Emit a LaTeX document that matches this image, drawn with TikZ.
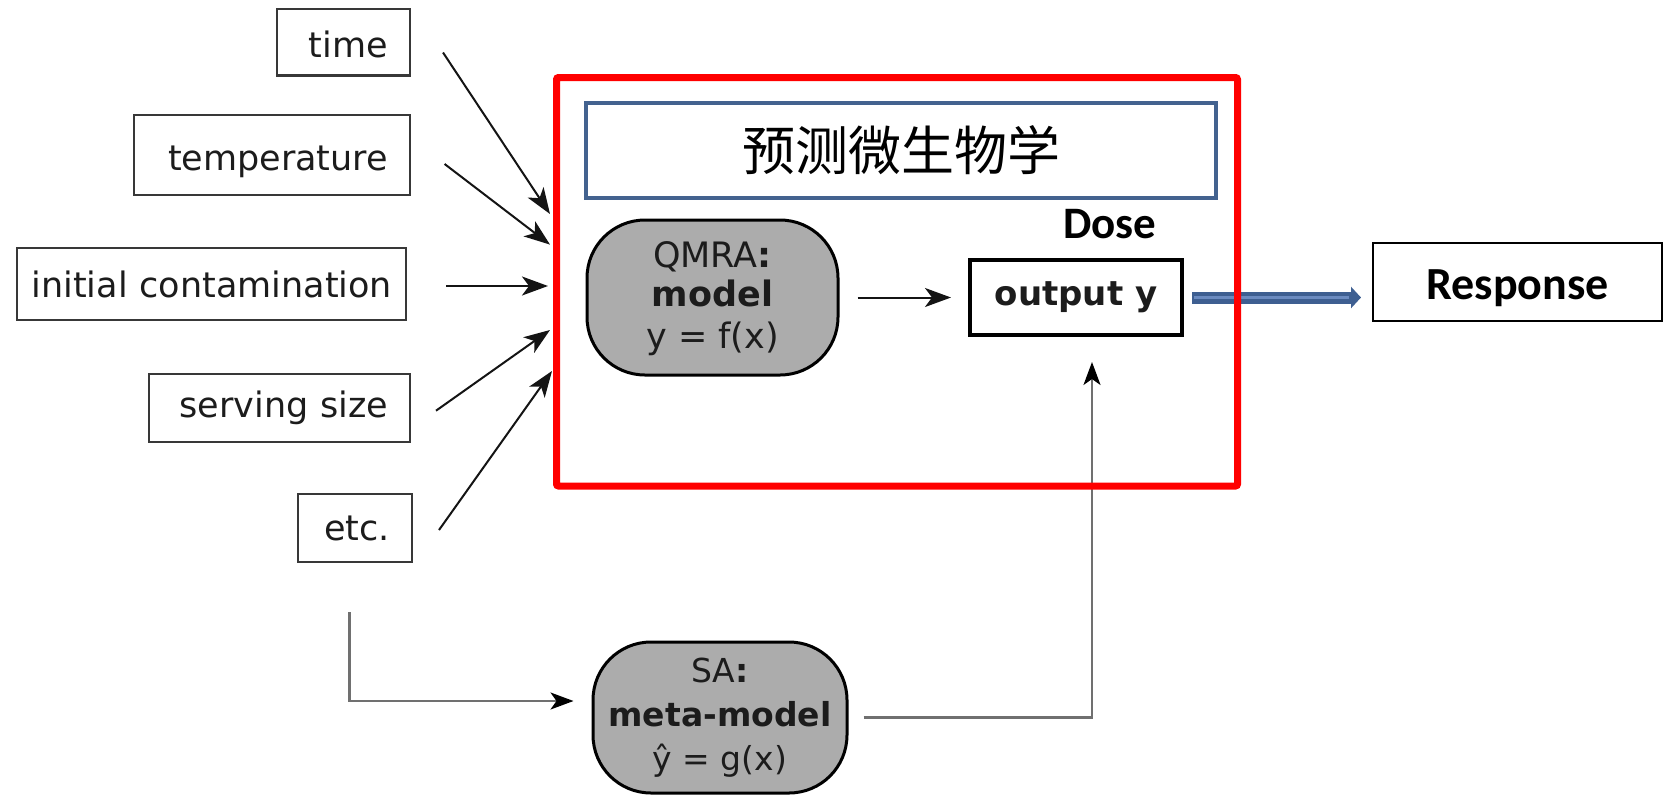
\documentclass[tikz,border=0pt]{standalone}
\usepackage{fontspec}
\setmainfont{DejaVu Sans}
\newfontfamily\carlito{Carlito}
\newfontfamily\cjk{Noto Sans CJK SC}
\usetikzlibrary{arrows.meta,calc}
\definecolor{redc}{HTML}{FF0000}
\definecolor{boxblue}{HTML}{43628F}
\definecolor{arrblue}{HTML}{3E5F91}
\definecolor{arrlight}{HTML}{6B8BC0}
\definecolor{blobfill}{HTML}{ACACAC}
\definecolor{linegray}{HTML}{707070}
\definecolor{txtdark}{HTML}{1C1C1C}
\begin{document}
\begin{tikzpicture}[x=1pt,y=-1pt,
  inbox/.style={draw=black!78, line width=2.5pt, text=txtdark,
    font=\fontsize{35}{40}\selectfont, align=right, inner ysep=0pt, inner xsep=22pt},
  blob/.style={draw=black, fill=blobfill, line width=3pt, rounded corners=58pt,
    align=center, text=txtdark, inner sep=0pt},
  inarrow/.style={draw=black!92, line width=2pt, -{Stealth[length=26pt,width=19pt,inset=7pt]}},
  grayarrow/.style={draw=linegray, line width=2.2pt, -{Stealth[length=23pt,width=17pt,inset=6pt,color=black]}},
  grayline/.style={draw=linegray, line width=2.2pt}
]
\useasboundingbox (0,0) rectangle (1666,796);

% input boxes
\node[inbox, text width=89pt, minimum width=133pt, minimum height=66.5pt] (time) at (343.5,42) {\raisebox{-2pt}[\height][\depth]{time}};
\node[inbox, text width=232pt, minimum width=276pt, minimum height=80pt] (temp) at (272,155) {\raisebox{-7pt}[\height][\depth]{temperature}};
\node[inbox, inner xsep=14pt, text width=361pt, minimum width=389pt, minimum height=72pt] (init) at (211.5,284) {\mbox{initial contamination}};
\node[inbox, text width=217pt, minimum width=261pt, minimum height=68pt] (serv) at (279.5,408) {serving size};
\node[inbox, text width=70pt, minimum width=114pt, minimum height=68pt] (etc) at (355,528) {etc.};

% title box
\node[draw=boxblue, line width=3.5pt, minimum width=630pt, minimum height=95pt,
  font=\cjk\fontsize{53}{60}\selectfont] (title) at (901,150.5) {预测微生物学};

% QMRA model
\node[blob, minimum width=251pt, minimum height=155pt, font=\fontsize{35}{42}\selectfont] (qmra) at (712.5,297.5)
  {\raisebox{-3pt}[\height][\depth]{QMRA\textbf{:}}\\\textbf{model}\\y = f(x)};

% output
\node[draw=black, line width=4pt, minimum width=212pt, minimum height=75pt,
  font=\bfseries\fontsize{34}{40}\selectfont, text=txtdark] (out) at (1076,297.5) {output y};
\node[font=\carlito\bfseries\fontsize{45}{50}\selectfont] (dose) at (1110,224.5) {Dose};

% response
\node[draw=black, line width=2pt, minimum width=289pt, minimum height=78pt,
  font=\carlito\bfseries\fontsize{46}{50}\selectfont] (resp) at (1517.5,282) {\raisebox{-6pt}[\height][\depth]{Response}};

% SA meta-model
\node[blob, minimum width=254pt, minimum height=151pt, font=\fontsize{33}{44}\selectfont] (sa) at (720,717.5)
  {SA\textbf{:}\\\textbf{meta-model}\\ŷ = g(x)};

% input arrows
\coordinate (ti0) at (443,52.5);   \coordinate (ti1) at (550,214);
\coordinate (te0) at (444.6,164);  \coordinate (te1) at (550,244.6);
\coordinate (in0) at (446,286);    \coordinate (in1) at (548,286);
\coordinate (se0) at (436,410.7);  \coordinate (se1) at (550,330);
\coordinate (et0) at (439,530);    \coordinate (et1) at (552,371);
\draw[inarrow] (ti0) -- (ti1);
\draw[inarrow] (te0) -- (te1);
\draw[inarrow] (in0) -- (in1);
\draw[inarrow] (se0) -- (se1);
\draw[inarrow] (et0) -- (et1);

% model -> output
\draw[inarrow] ($(qmra.east)+(18,0)$) -- ($(out.west)+(-17,0)$);

% etc -> SA
\coordinate (down0) at (349.5,612);
\draw[grayarrow] (down0) |- ($(sa.west)+(-18,-16.5)$);

% SA -> output
\draw[grayarrow] ($(sa.east)+(15,0)$) -| ($(out.south)+(16,25)$);

% blue arrow output -> response
\coordinate (bl0) at ($(out.east)+(8,0)$);
\coordinate (bl1) at ($(out.east -| resp.west)+(-11,0)$);
\draw[draw=arrblue, line width=12pt, -{Triangle[length=10pt,width=21pt]}] (bl0) -- (bl1);
\draw[draw=arrlight, line width=2.5pt, shorten >=12pt, shorten <=2pt] (bl0) -- (bl1);

% red frame
\node[draw=redc, line width=7pt, rounded corners=2pt, minimum width=681pt, minimum height=408.5pt] (frame) at (897,281.75) {};
\end{tikzpicture}
\end{document}
